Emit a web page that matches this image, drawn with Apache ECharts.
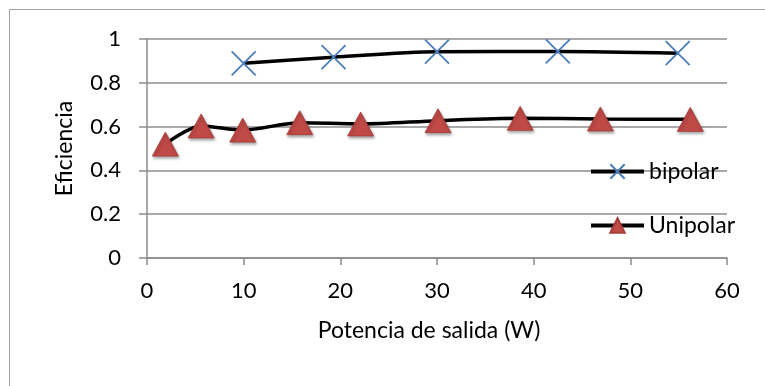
<!DOCTYPE html>
<html>
<head>
<meta charset="utf-8">
<script src="https://cdn.jsdelivr.net/npm/echarts@6/dist/echarts.min.js"></script>
<style>
  html, body { margin: 0; padding: 0; background: #fff; }
  #main { width: 765px; height: 386px; }
</style>
</head>
<body>
<div id="main"></div>
<script>
// datos
var bipolarX = [10, 19.3, 30, 42.5, 54.9];
var bipolarY = [0.889, 0.917, 0.942, 0.943, 0.935];
var unipolarX = [1.9, 5.6, 9.9, 15.8, 22.1, 30.1, 38.6, 46.9, 56.2];
var unipolarY = [0.52, 0.603, 0.584, 0.618, 0.612, 0.627, 0.638, 0.635, 0.633];
var seriesNames = ['bipolar', 'Unipolar'];

function pares(xs, ys) {
    var out = [];
    for (var i = 0; i < xs.length; i++) out.push([xs[i], ys[i]]);
    return out;
}

var myChart = echarts.init(document.getElementById('main'));
var fuente = 'Lato';
var gris = '#8c8c8c';

var option = {
    backgroundColor: '#fff',
    animation: false,
    textStyle: { fontFamily: fuente },
    graphic: [{
        type: 'rect',
        left: 7, top: 7,
        shape: { width: 800, height: 400 },
        style: { fill: 'none', stroke: '#a0a0a0', lineWidth: 1 },
        silent: true
    }],
    grid: { left: 147, right: 38, top: 39, bottom: 128 },
    legend: {
        orient: 'vertical',
        left: 584,
        top: 155,
        itemGap: 31,
        itemWidth: 53,
        itemHeight: 18,
        data: seriesNames,
        lineStyle: { width: 4, color: '#000' },
        textStyle: { fontFamily: fuente, fontSize: 23, color: '#000' }
    },
    xAxis: {
        type: 'value',
        min: 0, max: 60, interval: 10,
        name: 'Potencia de salida (W)',
        nameLocation: 'middle',
        nameGap: 61,
        nameTextStyle: { fontFamily: fuente, fontSize: 23, color: '#000', padding: [0, 16, 0, 0] },
        axisLine: { lineStyle: { color: gris, width: 1.5 } },
        axisTick: { show: true, length: 7, lineStyle: { color: gris, width: 1.5 } },
        axisLabel: { fontFamily: fuente, fontSize: 22, color: '#000', margin: 22 },
        splitLine: { show: false }
    },
    yAxis: {
        type: 'value',
        min: 0, max: 1, interval: 0.2,
        name: 'Eficiencia',
        nameLocation: 'middle',
        nameGap: 71,
        nameTextStyle: { fontFamily: fuente, fontSize: 23, color: '#000' },
        axisLine: { show: true, lineStyle: { color: gris, width: 1.5 } },
        axisTick: { show: true, length: 8, lineStyle: { color: gris, width: 1.5 } },
        axisLabel: { fontFamily: fuente, fontSize: 22, color: '#000', margin: 26 },
        splitLine: { show: true, lineStyle: { color: gris, width: 1.5 } }
    },
    series: [
        {
            name: seriesNames[0],
            type: 'line',
            smooth: 0.3,
            data: pares(bipolarX, bipolarY),
            symbol: 'path://M0,0L10,10M10,0L0,10',
            symbolSize: 24,
            lineStyle: { color: '#000', width: 3.5 },
            itemStyle: { color: '#000', borderColor: '#4a7ebb', borderWidth: 1.8 },
            z: 3
        },
        {
            name: seriesNames[1],
            type: 'line',
            smooth: 0.3,
            data: pares(unipolarX, unipolarY),
            symbol: 'triangle',
            symbolSize: [26, 24],
            lineStyle: { color: '#000', width: 3.5 },
            itemStyle: {
                color: '#bf4a46', borderColor: '#a83c39', borderWidth: 0.8,
                shadowColor: 'rgba(0,0,0,0.35)', shadowBlur: 3, shadowOffsetX: 1, shadowOffsetY: 2
            },
            z: 3
        }
    ]
};
myChart.setOption(option);
</script>
</body>
</html>
